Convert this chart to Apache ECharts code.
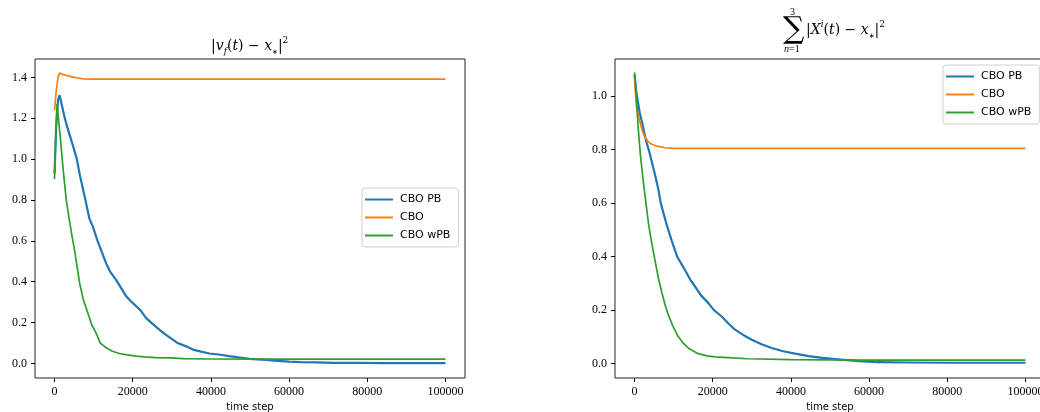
<!DOCTYPE html>
<html>
<head>
<meta charset="utf-8">
<script src="https://cdn.jsdelivr.net/npm/echarts@6/dist/echarts.min.js"></script>
<style>html,body{margin:0;padding:0;background:#fff}#c{width:1040px;height:412px}</style>
</head>
<body>
<div id="c"></div>
<script>
// ---- data (time step, value) ----
var seriesNames = ['CBO PB', 'CBO', 'CBO wPB'];
var xTicks = [0, 20000, 40000, 60000, 80000, 100000];
var leftYTicks = [0, 0.2, 0.4, 0.6, 0.8, 1.0, 1.2, 1.4];
var rightYTicks = [0, 0.2, 0.4, 0.6, 0.8, 1.0];

var leftPB = [[0,0.93],[400,1.15],[900,1.29],[1300,1.313],[1800,1.27],[2500,1.21],[3200,1.16],[4000,1.11],[4800,1.06],[5700,1.0],[6500,0.92],[7200,0.86],[7900,0.80],[8900,0.71],[9800,0.67],[11000,0.60],[12000,0.55],[13200,0.49],[14200,0.45],[15700,0.41],[17000,0.37],[18300,0.33],[19500,0.305],[20900,0.28],[22000,0.26],[23400,0.223],[25000,0.195],[26800,0.166],[28500,0.14],[30000,0.12],[31500,0.10],[33500,0.085],[35400,0.068],[37500,0.058],[39600,0.049],[42000,0.044],[44700,0.036],[47000,0.03],[49800,0.023],[52000,0.02],[54300,0.018],[57000,0.013],[60000,0.009],[63000,0.007],[67000,0.005],[71000,0.003],[78000,0.003],[85000,0.002],[92000,0.002],[100000,0.002]];
var leftCBO = [[0,1.24],[400,1.33],[900,1.40],[1300,1.422],[2000,1.415],[3000,1.41],[4000,1.405],[5000,1.40],[6000,1.397],[7300,1.393],[10000,1.392],[100000,1.392]];
var leftWPB = [[0,0.903],[200,1.05],[450,1.2],[650,1.27],[1000,1.2],[1500,1.1],[2200,0.95],[3000,0.80],[3800,0.70],[4500,0.62],[5100,0.557],[5800,0.47],[6400,0.394],[7400,0.31],[8500,0.248],[9500,0.19],[10600,0.150],[11700,0.10],[13200,0.077],[14800,0.06],[16600,0.049],[18500,0.042],[20900,0.036],[23000,0.032],[26000,0.029],[29400,0.027],[33000,0.024],[40000,0.022],[55000,0.021],[100000,0.021]];

var rightPB = [[0,1.08],[500,1.01],[1300,0.94],[2200,0.884],[3000,0.83],[3900,0.785],[5000,0.72],[6050,0.655],[6700,0.60],[8200,0.52],[9500,0.46],[10900,0.40],[12900,0.35],[14200,0.315],[15500,0.288],[17000,0.255],[18900,0.226],[20300,0.20],[22300,0.176],[24000,0.15],[25700,0.127],[27800,0.107],[30000,0.089],[32500,0.072],[35100,0.058],[38000,0.046],[41100,0.037],[44500,0.028],[48000,0.021],[52000,0.016],[57500,0.009],[62000,0.005],[70000,0.004],[80000,0.003],[100000,0.003]];
var rightCBO = [[0,1.06],[500,0.96],[1360,0.905],[2000,0.87],[2640,0.847],[3500,0.83],[4400,0.82],[6000,0.812],[7800,0.807],[10000,0.805],[100000,0.805]];
var rightWPB = [[0,1.089],[500,0.99],[920,0.884],[1500,0.78],[2200,0.686],[2820,0.611],[3600,0.52],[4400,0.45],[5300,0.38],[6100,0.32],[7000,0.265],[7800,0.22],[8700,0.18],[9800,0.14],[11000,0.105],[12400,0.077],[14000,0.055],[16300,0.037],[18500,0.029],[20600,0.025],[25000,0.021],[29000,0.018],[40000,0.015],[60000,0.013],[100000,0.013]];

var colors = ['#1f77b4', '#ff7f0e', '#2ca02c'];
var widths = [2.2, 1.7, 1.7];
var tickFont = 'Liberation Serif';
var mathFont = 'DejaVu Serif';
var sansFont = 'DejaVu Sans';

function xAxisFor(gi) {
  return {
    type: 'value', gridIndex: gi, min: -5000, max: 105000,
    splitLine: {show: false}, axisLine: {show: false, onZero: false},
    axisTick: {show: true, inside: false, length: 4, customValues: xTicks, lineStyle: {color: '#000', width: 1}},
    axisLabel: {customValues: xTicks, margin: 8, color: '#000', fontFamily: tickFont, fontSize: 12, formatter: function (v) { return String(v); }},
    name: 'time step', nameLocation: 'middle', nameGap: 22,
    nameTextStyle: {color: '#000', fontFamily: sansFont, fontSize: 10}
  };
}
function yAxisFor(gi, mn, mx, ticks) {
  return {
    type: 'value', gridIndex: gi, min: mn, max: mx,
    splitLine: {show: false}, axisLine: {show: false, onZero: false},
    axisTick: {show: true, inside: false, length: 4, customValues: ticks, lineStyle: {color: '#000', width: 1}},
    axisLabel: {customValues: ticks, margin: 8, color: '#000', fontFamily: tickFont, fontSize: 12, formatter: function (v) { return v.toFixed(1); }}
  };
}
function line(name, data, ci, gi) {
  return {
    type: 'line', name: name, data: data, xAxisIndex: gi, yAxisIndex: gi,
    showSymbol: false, symbol: 'none', lineStyle: {color: colors[ci], width: widths[ci]},
    itemStyle: {color: colors[ci]}, animation: false
  };
}
function legendFor(left, top) {
  return {
    orient: 'vertical', left: left, top: top,
    data: seriesNames.map(function (n) { return {name: n, icon: 'rect'}; }),
    itemWidth: 28, itemHeight: 2, itemGap: 5,
    padding: [5, 8, 5, 3],
    borderColor: '#d0d0d0', borderWidth: 1, borderRadius: 3,
    backgroundColor: 'rgba(255,255,255,0.85)',
    textStyle: {color: '#000', fontFamily: sansFont, fontSize: 11, lineHeight: 13, padding: [0, 0, 0, 2]},
    selectedMode: false
  };
}

var mathRich = {
  n: {fontFamily: mathFont, fontSize: 14, color: '#000', lineHeight: 20},
  i: {fontFamily: mathFont, fontStyle: 'italic', fontSize: 14, color: '#000', lineHeight: 20},
  s: {fontFamily: mathFont, fontStyle: 'italic', fontSize: 9, color: '#000', lineHeight: 10, verticalAlign: 'bottom'},
  st: {fontFamily: 'DejaVu Sans', fontSize: 7, color: '#000', lineHeight: 10, verticalAlign: 'bottom'},
  p: {fontFamily: mathFont, fontSize: 9, color: '#000', lineHeight: 10, verticalAlign: 'top'},
  pi: {fontFamily: mathFont, fontStyle: 'italic', fontSize: 9, color: '#000', lineHeight: 10, verticalAlign: 'top'}
};

var chart = echarts.init(document.getElementById('c'), null, {renderer: 'canvas'});
chart.setOption({
  animation: false,
  backgroundColor: '#fff',
  grid: [
    {left: 35, top: 59, width: 430, height: 319, outerBoundsMode: 'none', containLabel: false, show: true, borderColor: '#222', borderWidth: 1, backgroundColor: 'transparent'},
    {left: 615, top: 59, width: 430, height: 319, outerBoundsMode: 'none', containLabel: false, show: true, borderColor: '#222', borderWidth: 1, backgroundColor: 'transparent'}
  ],
  xAxis: [xAxisFor(0), xAxisFor(1)],
  yAxis: [yAxisFor(0, -0.071, 1.49, leftYTicks), yAxisFor(1, -0.054, 1.139, rightYTicks)],
  legend: [legendFor(362, 188), legendFor(943, 65)],
  series: [
    line(seriesNames[0], leftPB, 0, 0),
    line(seriesNames[1], leftCBO, 1, 0),
    line(seriesNames[2], leftWPB, 2, 0),
    line(seriesNames[0], rightPB, 0, 1),
    line(seriesNames[1], rightCBO, 1, 1),
    line(seriesNames[2], rightWPB, 2, 1)
  ],
  graphic: [
    {type: 'text', left: 211, top: 36, style: {
      text: '{n||}{i|v}{s|f}{n|(}{i|t}{n|) − }{i|x}{st|∗}{n||}{p|2}', rich: mathRich}},
    {type: 'text', left: 783, top: 15, style: {text: '∑', fontFamily: 'DejaVu Serif', fontSize: 30, fill: '#000'}},
    {type: 'text', left: 790, top: 7, style: {text: '3', fontFamily: tickFont, fontSize: 10, fill: '#000'}},
    {type: 'text', left: 784, top: 44, style: {text: '{a|n}{b|=1}', rich: {
      a: {fontFamily: tickFont, fontStyle: 'italic', fontSize: 10, color: '#000'},
      b: {fontFamily: tickFont, fontSize: 10, color: '#000'}}}},
    {type: 'text', left: 806, top: 20, style: {
      text: '{n||}{i|X}{pi|i}{n|(}{i|t}{n|) − }{i|x}{st|∗}{n||}{p|2}', rich: mathRich}}
  ]
});
</script>
</body>
</html>
